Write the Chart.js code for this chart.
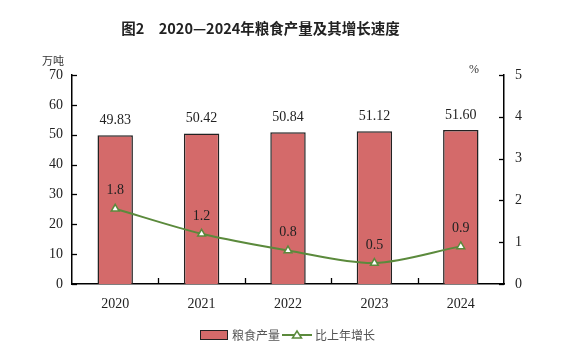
<!DOCTYPE html>
<html><head><meta charset="utf-8">
<script src="https://cdn.jsdelivr.net/npm/chart.js@4.4.1/dist/chart.umd.min.js"></script>
<style>
html,body{margin:0;padding:0;background:#fff;}
#wrap{position:relative;width:569px;height:358px;}
#title{position:absolute;left:0;width:521px;top:17px;text-align:center;font-family:"Noto Sans CJK SC",sans-serif;font-size:14.5px;font-weight:bold;color:#222;white-space:pre;}
.unit{position:absolute;font-family:"Noto Sans CJK SC",serif;font-size:11px;color:#333;}
#legend{position:absolute;top:326px;left:0;width:569px;display:flex;justify-content:center;align-items:center;font-family:"Noto Sans CJK SC",sans-serif;font-size:12px;color:#555;}
#legend .box{width:26px;height:8px;background:#d46a6a;border:1px solid #222;margin-right:4px;}
</style></head><body>
<div id="wrap">
<canvas id="c" width="569" height="358"></canvas>
<div id="title">图2　2020—2024年粮食产量及其增长速度</div>
<div class="unit" style="left:42px;top:52px;">万吨</div>
<div class="unit" style="left:469px;top:62px;font-family:'Liberation Serif',serif;font-size:12px;">%</div>
<div id="legend" style="padding-left:6px;box-sizing:border-box;"><span class="box"></span><span>粮食产量</span>
<svg width="30" height="12" style="margin:0 3px 0 2px"><line x1="0" y1="6" x2="30" y2="6" stroke="#5b8a3c" stroke-width="2"/><polygon points="15,2 19.5,9 10.5,9" fill="#fff" stroke="#5b8a3c" stroke-width="1.5"/></svg>
<span>比上年增长</span></div>
</div>
<script>
const categories = ["2020","2021","2022","2023","2024"];
const output = [49.83, 50.42, 50.84, 51.12, 51.60];
const growth = [1.8, 1.2, 0.8, 0.5, 0.9];
const outputLabels = ["49.83","50.42","50.84","51.12","51.60"];
const growthLabels = ["1.8","1.2","0.8","0.5","0.9"];
const leftTicks = [0,10,20,30,40,50,60,70];
const rightTicks = [0,1,2,3,4,5];

const serif = "'Liberation Serif','Times New Roman',serif";

const innerTicks = {
  id:'innerTicks',
  afterDraw(chart){
    const ctx = chart.ctx, a = chart.chartArea;
    ctx.save();
    ctx.strokeStyle = '#000'; ctx.lineWidth = 1.3;
    const y = chart.scales.y, y1 = chart.scales.y1, x = chart.scales.x;
    y.ticks.forEach(t=>{const p=Math.round(y.getPixelForValue(t.value))+0.5;ctx.beginPath();ctx.moveTo(a.left,p);ctx.lineTo(a.left+5,p);ctx.stroke();});
    y1.ticks.forEach(t=>{const p=Math.round(y1.getPixelForValue(t.value))+0.5;ctx.beginPath();ctx.moveTo(a.right-5,p);ctx.lineTo(a.right,p);ctx.stroke();});
    for(let i=1;i<categories.length;i++){
      const p=Math.round(x.getPixelForValue(i-0.5))+0.5;
      ctx.beginPath();ctx.moveTo(p,a.bottom);ctx.lineTo(p,a.bottom-6);ctx.stroke();
    }
    ctx.fillStyle='#222'; ctx.font = "14px "+serif; ctx.textAlign='center'; ctx.textBaseline='bottom';
    chart.getDatasetMeta(1).data.forEach((el,i)=>{ctx.fillText(outputLabels[i], el.x, el.y-8);});
    chart.getDatasetMeta(0).data.forEach((el,i)=>{ctx.fillText(growthLabels[i], el.x, el.y-11);});
    ctx.restore();
  }
};

new Chart(document.getElementById('c'), {
  data:{
    labels: categories,
    datasets:[
      {type:'line', label:'比上年增长', data: growth, yAxisID:'y1', borderColor:'#5b8a3c', borderWidth:2,
       pointStyle:'triangle', pointRadius:4.5, pointBackgroundColor:'#fff', pointBorderColor:'#5b8a3c', pointBorderWidth:1.5,
       tension:0.3, order:0},
      {type:'bar', label:'粮食产量', data: output, yAxisID:'y', backgroundColor:'#d46a6a', borderColor:'#222', borderWidth:1.5,
       categoryPercentage:1, barPercentage:0.41, order:1}
    ]
  },
  options:{
    responsive:false, animation:false, devicePixelRatio:1,
    layout:{padding:{top:75,bottom:44,left:0,right:0}},
    plugins:{legend:{display:false}, title:{display:false}, tooltip:{enabled:false}},
    scales:{
      x:{offset:true, grid:{display:false, drawTicks:false}, border:{display:true,color:'#000',width:1.5},
         ticks:{color:'#222', font:{family:serif,size:14}, padding:12},
         afterFit(s){s.height=30;}},
      y:{position:'left', min:0, max:70, afterBuildTicks(s){s.ticks=leftTicks.map(v=>({value:v}));},
         grid:{display:false, drawTicks:false}, border:{display:true,color:'#000',width:1.5},
         ticks:{color:'#222', font:{family:serif,size:14}, padding:9},
         afterFit(s){s.width=72;}},
      y1:{position:'right', min:0, max:5, afterBuildTicks(s){s.ticks=rightTicks.map(v=>({value:v}));},
         grid:{display:false, drawTicks:false}, border:{display:true,color:'#000',width:1.5},
         ticks:{color:'#222', font:{family:serif,size:14}, padding:11},
         afterFit(s){s.width=65;}}
    }
  },
  plugins:[innerTicks]
});
</script>
</body></html>
